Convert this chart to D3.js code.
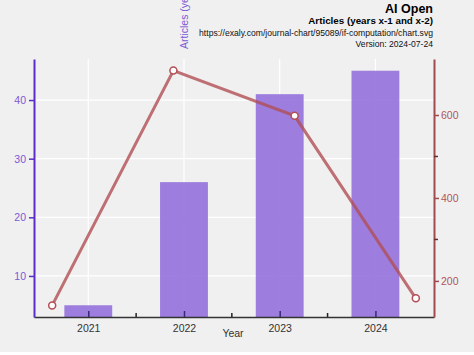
<!DOCTYPE html>
<html><head><meta charset="utf-8">
<script src="https://cdn.jsdelivr.net/npm/d3@7"></script>
<style>body{margin:0;background:#fff}svg{display:block;font-family:"Liberation Sans",Arial,sans-serif}</style>
</head><body><svg id="c" width="474" height="355"></svg>
<script>
const years = [2021, 2022, 2023, 2024];
const articles = [5, 26, 41, 45];
const citations = [141, 707, 598, 158];
const leftTicks = [10, 20, 30, 40];
const rightTicks = [200, 400, 600];
const rightMinor = [300, 500];
const xMinor = [2021.5, 2022.5, 2023.5];

const svg = d3.select("#c");
const L = 34, R = 434, T = 59, B = 317;
svg.append("rect").attr("width", 474).attr("height", 352).attr("fill", "#f0f0f0");

const x = d3.scaleLinear().domain([2020.433, 2024.612]).range([L, R]);
const xp = d3.scalePoint().domain(years).range([L, R]).padding(0.15);
const yL = d3.scaleLinear().domain([3, 47]).range([B, T]);
const yR = d3.scaleLinear().domain([113, 735]).range([B, T]);
const bw = (x(2022) - x(2021)) / 2;

// grid
const g = svg.append("g");
g.selectAll("line.h").data(leftTicks).join("line")
  .attr("x1", L).attr("x2", R).attr("y1", d => yL(d)).attr("y2", d => yL(d))
  .attr("stroke", "#fff").attr("stroke-width", 1.2);
g.selectAll("line.v").data(years).join("line")
  .attr("x1", d => x(d)).attr("x2", d => x(d)).attr("y1", T).attr("y2", B)
  .attr("stroke", "#fff").attr("stroke-width", 1.2);

// bars
svg.selectAll("rect.bar").data(years).join("rect")
  .attr("x", d => x(d) - bw / 2).attr("width", bw)
  .attr("y", (d, i) => yL(articles[i])).attr("height", (d, i) => B - yL(articles[i]))
  .attr("fill", "#9370db").attr("opacity", 0.9);

// line
const line = d3.line().x((d, i) => xp(years[i])).y(d => yR(d));
svg.append("path").datum(citations).attr("d", line)
  .attr("fill", "none").attr("stroke", "#b24f55").attr("stroke-opacity", 0.8).attr("stroke-width", 3);
svg.selectAll("circle").data(citations).join("circle")
  .attr("cx", (d, i) => xp(years[i])).attr("cy", d => yR(d)).attr("r", 3.5)
  .attr("fill", "#fff").attr("stroke", "#b24f55").attr("stroke-width", 1.5);

// x axis
const xa = svg.append("g").attr("transform", `translate(0,${B})`)
  .call(d3.axisBottom(x).tickValues(years).tickFormat(d3.format("d")).tickSizeInner(-6).tickSizeOuter(0).tickPadding(8));
xa.select(".domain").attr("stroke", "#333").attr("stroke-width", 1.5);
xa.selectAll(".tick line").attr("stroke", "#3a2a70").attr("stroke-width", 1.5);
xa.selectAll(".tick text").attr("fill", "#333").attr("font-size", 10.5);
xa.selectAll("line.minor").data(xMinor).join("line").attr("class", "minor")
  .attr("x1", d => x(d)).attr("x2", d => x(d)).attr("y1", 0).attr("y2", -4)
  .attr("stroke", "#222").attr("stroke-width", 1.5);
svg.append("text").attr("x", 233).attr("y", 337).attr("text-anchor", "middle")
  .attr("font-size", 10.5).attr("fill", "#333").text("Year");

// left axis
const la = svg.append("g").attr("transform", `translate(${L},0)`)
  .call(d3.axisLeft(yL).tickValues(leftTicks).tickSize(5).tickSizeOuter(0).tickPadding(3));
la.select(".domain").attr("stroke", "#5b2cc9").attr("stroke-width", 2);
la.selectAll(".tick line").attr("stroke", "#5b2cc9").attr("stroke-width", 1.5);
la.selectAll(".tick text").attr("fill", "#7b5ad6").attr("font-size", 10.5);
svg.append("text").attr("transform", "translate(188,49) rotate(-90)")
  .attr("font-size", 10.5).attr("fill", "#7b5ad6").text("Articles (years x-1 and x-2)");

// right axis
const ra = svg.append("g").attr("transform", `translate(${R},0)`)
  .call(d3.axisRight(yR).tickValues(rightTicks).tickSize(5).tickSizeOuter(0).tickPadding(2));
ra.select(".domain").attr("stroke", "#a24a4e").attr("stroke-width", 2);
ra.selectAll(".tick line").attr("stroke", "#a24a4e").attr("stroke-width", 1.5);
ra.selectAll(".tick text").attr("fill", "#b0555a").attr("font-size", 10.5);
ra.selectAll("line.minor").data(rightMinor).join("line").attr("class", "minor")
  .attr("x1", 0).attr("x2", 4).attr("y1", d => yR(d)).attr("y2", d => yR(d))
  .attr("stroke", "#6a2a2e").attr("stroke-width", 1.5);

// titles
const tx = 433;
svg.append("text").attr("x", tx).attr("y", 12.5).attr("text-anchor", "end")
  .attr("font-size", 12.5).attr("font-weight", "bold").attr("fill", "#000").text("AI Open");
svg.append("text").attr("x", tx).attr("y", 24).attr("text-anchor", "end")
  .attr("font-size", 9.8).attr("font-weight", "bold").attr("fill", "#000").text("Articles (years x-1 and x-2)");
svg.append("text").attr("x", tx).attr("y", 35.5).attr("text-anchor", "end")
  .attr("font-size", 8.6).attr("fill", "#111").text("https://exaly.com/journal-chart/95089/if-computation/chart.svg");
svg.append("text").attr("x", tx).attr("y", 46.5).attr("text-anchor", "end")
  .attr("font-size", 8.6).attr("fill", "#111").text("Version: 2024-07-24");
</script></body></html>
